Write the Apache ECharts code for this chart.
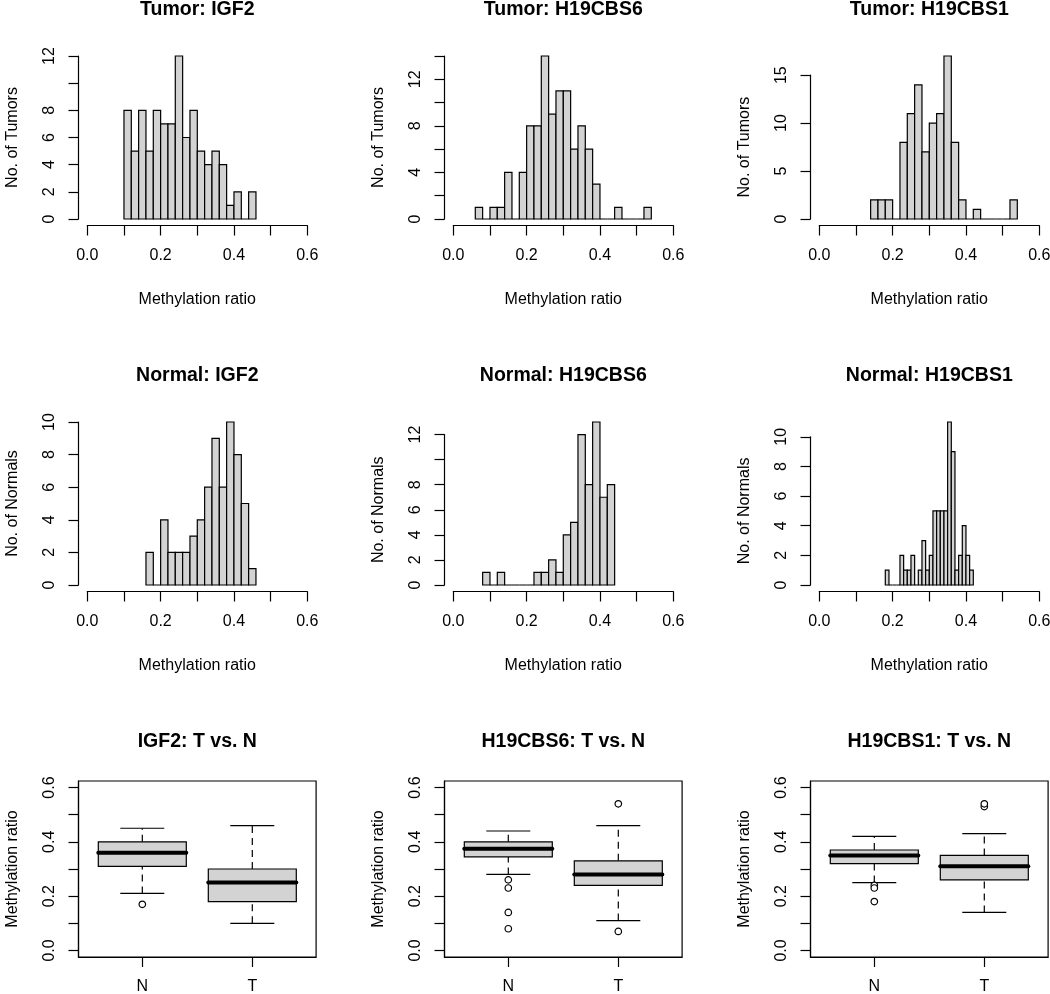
<!DOCTYPE html>
<html><head><meta charset="utf-8">
<script src="https://cdn.jsdelivr.net/npm/echarts@6/dist/echarts.min.js"></script>
<style>html,body{margin:0;padding:0;background:#fff}#c{width:1050px;height:994px}</style>
</head><body><div id="c"></div>
<script>
// ---------------- DATA ----------------
const histTitles = ['Tumor: IGF2','Tumor: H19CBS6','Tumor: H19CBS1','Normal: IGF2','Normal: H19CBS6','Normal: H19CBS1'];
const histYNames = ['No. of Tumors','No. of Tumors','No. of Tumors','No. of Normals','No. of Normals','No. of Normals'];
// histogram counts (bins start at binStart, width binWidth)
const tumorIGF2Counts   = [8,5,8,5,8,7,7,12,6,8,5,4,5,4,1,2,0,2];
const tumorCBS6Counts   = [1,0,1,1,4,0,4,8,8,14,9,11,11,6,8,6,3,0,0,1,0,0,0,1];
const tumorCBS1Counts   = [2,2,2,0,8,11,14,7,10,11,17,8,2,0,1,0,0,0,0,2];
const normalIGF2Counts  = [2,0,4,2,2,2,3,4,6,9,6,10,8,5,1];
const normalCBS6Counts  = [1,0,1,0,0,0,0,1,1,2,1,4,5,12,8,13,7,8];
const normalCBS1Counts  = [1,0,0,0,2,1,1,2,0,1,3,1,2,5,5,5,5,11,9,1,2,4,2,1];
const binStarts = [0.10,0.06,0.14,0.16,0.08,0.18];
const binWidths = [0.02,0.02,0.02,0.02,0.02,0.01];
// tick labels
const histXTicks  = [0,0.1,0.2,0.3,0.4,0.5,0.6];
const histXLabels = [0,0.2,0.4,0.6];
const histYSteps  = [2,2,5,2,2,2];
const histYLabels = [[0,2,4,6,8,12],[0,4,8,12],[0,5,10,15],[0,2,4,6,8,10],[0,2,4,6,8,12],[0,2,4,6,8,10]];
// boxplots: [min whisker, Q1, median, Q3, max whisker]
const boxTitles = ['IGF2: T vs. N','H19CBS6: T vs. N','H19CBS1: T vs. N'];
const boxCats = ['N','T'];
const igf2N = [0.21,0.31,0.36,0.40,0.45],  igf2T = [0.10,0.18,0.25,0.30,0.46];
const cbs6N = [0.28,0.345,0.375,0.40,0.44], cbs6T = [0.11,0.24,0.28,0.33,0.46];
const cbs1N = [0.25,0.32,0.35,0.37,0.42],  cbs1T = [0.14,0.26,0.31,0.35,0.43];
const igf2NOut = [0.17], igf2TOut = [];
const cbs6NOut = [0.26,0.23,0.14,0.08], cbs6TOut = [0.54,0.07];
const cbs1NOut = [0.24,0.23,0.18], cbs1TOut = [0.53,0.54];
const boxYTicks  = [0,0.1,0.2,0.3,0.4,0.5,0.6];
const boxYLabels = [0,0.2,0.4,0.6];
const boxYName = 'Methylation ratio';
const xName = 'Methylation ratio';

// ---------------- LAYOUT ----------------
const FONT = '"Liberation Sans", Arial, Helvetica, sans-serif';
const colLeft = [78.5, 444.5, 810.5], rowTop = [49.5, 415.5, 781];
const plotW = 237.6, plotH = 176;
const LW = 1.2, TICK = 10, FS = 16, TFS = 19.5;
const GRAY = '#D3D3D3';

const histCounts = [tumorIGF2Counts,tumorCBS6Counts,tumorCBS1Counts,normalIGF2Counts,normalCBS6Counts,normalCBS1Counts];
const grids = [], xAxes = [], yAxes = [], series = [], graphics = [];

function axisBase() {
  return {
    axisLine: {show: true, onZero: false, lineStyle: {color: '#000', width: LW}},
    axisTick: {show: true, length: TICK, inside: false, lineStyle: {color: '#000', width: LW}},
    splitLine: {show: false},
    nameLocation: 'middle',
    nameTextStyle: {color: '#000', fontSize: FS, fontFamily: FONT},
  };
}
function addTitle(text, c, r) {
  graphics.push({type: 'text', x: colLeft[c] + plotW / 2, y: rowTop[r] - 39.5, silent: true,
    style: {text: text, fill: '#000', font: 'bold ' + TFS + 'px ' + FONT, textAlign: 'center', textVerticalAlign: 'middle', align: 'center', verticalAlign: 'middle'}});
}

const xr = 0.6, xExt = 0.04 * xr, xUnit = plotW / (xr + 2 * xExt);

histCounts.forEach((counts, i) => {
  const r = Math.floor(i / 3), c = i % 3;
  const maxC = Math.max(...counts);
  const ext = 0.04 * maxC, yUnit = plotH / (maxC + 2 * ext);
  const step = histYSteps[i];
  const topTick = Math.floor((maxC + ext) / step) * step;
  const zeroY = rowTop[r] + (maxC + ext) * yUnit;
  grids.push({left: colLeft[c] + xExt * xUnit, width: xr * xUnit, top: zeroY - topTick * yUnit, height: topTick * yUnit, outerBoundsMode: 'none'});
  xAxes.push(Object.assign(axisBase(), {
    gridIndex: i, type: 'value', min: 0, max: 0.6, interval: 0.1, offset: ext * yUnit,
    name: xName, nameGap: 66,
    axisLabel: {color: '#000', fontSize: FS, fontFamily: FONT, margin: 22, customValues: histXLabels, formatter: v => v.toFixed(1)},
    axisTick: {show: true, length: TICK, lineStyle: {color: '#000', width: LW}, customValues: histXTicks}
  }));
  yAxes.push(Object.assign(axisBase(), {
    gridIndex: i, type: 'value', min: 0, max: topTick, interval: step, offset: xExt * xUnit,
    name: histYNames[i], nameGap: 58,
    axisLabel: {color: '#000', fontSize: FS, fontFamily: FONT, margin: 21, rotate: 90, customValues: histYLabels[i], formatter: v => String(v)}
  }));
  const s = binStarts[i], w = binWidths[i];
  series.push({
    type: 'custom', xAxisIndex: i, yAxisIndex: i, clip: false, silent: true,
    data: counts.map((cnt, k) => [s + k * w, s + (k + 1) * w, cnt]),
    encode: {x: [0, 1], y: 2},
    renderItem: (params, api) => {
      const p0 = api.coord([api.value(0), 0]);
      const p1 = api.coord([api.value(1), api.value(2)]);
      return {type: 'rect', shape: {x: p0[0], y: p1[1], width: p1[0] - p0[0], height: p0[1] - p1[1]},
        style: {fill: GRAY, stroke: '#000', lineWidth: LW}};
    }
  });
  addTitle(histTitles[i], c, r);
});

const boxStats = [[igf2N, igf2T], [cbs6N, cbs6T], [cbs1N, cbs1T]];
const boxOut = [[igf2NOut, igf2TOut], [cbs6NOut, cbs6TOut], [cbs1NOut, cbs1TOut]];
const bxMin = 0.5 - 0.04 * 2, bxMax = 2.5 + 0.04 * 2;
const byMin = 0 - 0.04 * 0.6, byMax = 0.6 + 0.04 * 0.6;

boxStats.forEach((pair, j) => {
  const i = 6 + j;
  grids.push({left: colLeft[j], top: rowTop[2], width: plotW, height: plotH, show: true,
    borderColor: '#000', borderWidth: LW, backgroundColor: 'transparent', outerBoundsMode: 'none'});
  xAxes.push(Object.assign(axisBase(), {
    gridIndex: i, type: 'value', min: bxMin, max: bxMax,
    axisLabel: {color: '#000', fontSize: FS, fontFamily: FONT, margin: 22, customValues: [1, 2], formatter: v => boxCats[Math.round(v) - 1]},
    axisTick: {show: true, length: TICK, lineStyle: {color: '#000', width: LW}, customValues: [1, 2]}
  }));
  yAxes.push(Object.assign(axisBase(), {
    gridIndex: i, type: 'value', min: byMin, max: byMax,
    name: boxYName, nameGap: 58,
    axisLabel: {color: '#000', fontSize: FS, fontFamily: FONT, margin: 21, rotate: 90, customValues: boxYLabels, formatter: v => v.toFixed(1)},
    axisTick: {show: true, length: TICK, lineStyle: {color: '#000', width: LW}, customValues: boxYTicks}
  }));
  series.push({
    type: 'custom', xAxisIndex: i, yAxisIndex: i, silent: true, clip: false,
    data: pair.map((st, k) => [k + 1].concat(st)),
    encode: {x: 0, y: [1, 2, 3, 4, 5]},
    renderItem: (params, api) => {
      const x = api.value(0);
      const v = [1, 2, 3, 4, 5].map(d => api.value(d));
      const P = (xx, yy) => api.coord([xx, yy]);
      const line = (a, b, extra) => ({type: 'line', shape: {x1: a[0], y1: a[1], x2: b[0], y2: b[1]},
        style: Object.assign({stroke: '#000', lineWidth: LW}, extra || {})});
      const bl = P(x - 0.4, v[1]), tr = P(x + 0.4, v[3]);
      return {type: 'group', children: [
        line(P(x, v[0]), P(x, v[1]), {lineDash: [7, 5]}),
        line(P(x, v[3]), P(x, v[4]), {lineDash: [7, 5]}),
        line(P(x - 0.2, v[0]), P(x + 0.2, v[0])),
        line(P(x - 0.2, v[4]), P(x + 0.2, v[4])),
        {type: 'rect', shape: {x: bl[0], y: tr[1], width: tr[0] - bl[0], height: bl[1] - tr[1]},
          style: {fill: GRAY, stroke: '#000', lineWidth: LW}},
        line(P(x - 0.4, v[2]), P(x + 0.4, v[2]), {lineWidth: 4, lineCap: 'round'})
      ]};
    }
  });
  const outData = [];
  boxOut[j].forEach((arr, k) => arr.forEach(val => outData.push([k + 1, val])));
  series.push({
    type: 'scatter', xAxisIndex: i, yAxisIndex: i, silent: true, symbol: 'circle', symbolSize: 6.5,
    itemStyle: {color: '#fff', borderColor: '#000', borderWidth: 1.2, opacity: 1},
    data: outData, z: 5
  });
  addTitle(boxTitles[j], j, 2);
});

const chart = echarts.init(document.getElementById('c'), null, {renderer: 'canvas'});
chart.setOption({
  backgroundColor: '#fff',
  animation: false,
  grid: grids, xAxis: xAxes, yAxis: yAxes, series: series,
  graphic: {elements: graphics}
});
</script></body></html>
